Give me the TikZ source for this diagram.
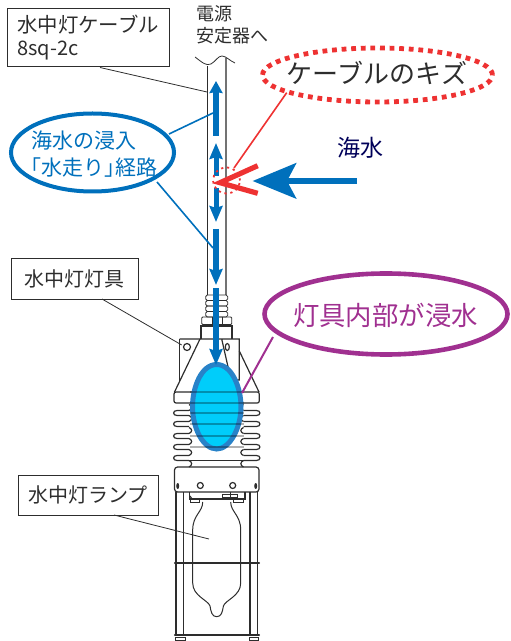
\documentclass[tikz,border=0pt]{standalone}
\usepackage{fontspec}
\setmainfont{Noto Sans CJK JP}
\newfontfamily\cjkprop[RawFeature=+palt]{Noto Sans CJK JP}
\usetikzlibrary{positioning,shapes.geometric,arrows.meta}
\definecolor{seablue}{RGB}{0,112,188}
\definecolor{cutred}{RGB}{238,50,50}
\definecolor{leakpurple}{RGB}{160,48,144}
\definecolor{waterfill}{RGB}{0,205,250}
\definecolor{wateredge}{RGB}{40,130,200}
\definecolor{inkgrey}{RGB}{45,45,45}
\begin{document}
\begin{tikzpicture}[
    x=0.5pt, y=-0.5pt,
    % Styles
    labelbox/.style={% For the white captions
        rectangle,
        draw=inkgrey,
        line width=.5pt,
        inner sep=0pt,
        text=inkgrey,
        },
    oval/.style={% For the big callouts
        ellipse,
        inner sep=0pt,
        },
    part/.style={% Lamp outline
        draw=inkgrey,
        line width=.6pt,
        },
    thinpart/.style={%
        draw=inkgrey,
        line width=.4pt,
        },
    leader/.style={% Thin line from a caption
        draw=inkgrey,
        line width=.4pt,
        },
    flowshort/.style={% Water path, short head
        seablue,
        line width=3pt,
        -{Stealth[length=6pt,width=6.5pt,inset=.5pt]},
        },
    flowlong/.style={% Water path, long head
        seablue,
        line width=#1,
        -{Stealth[length=8pt,width=6.5pt,inset=1pt]},
        },
    ]

    \useasboundingbox (0,0) rectangle (510,641);

    % Draw the cable
    \draw [thinpart] (207.3,66) -- (207.3,295);
    \draw [part, draw=gray!90!black] (226,58) -- (226,295);
    \draw [thinpart] (195,57) .. controls (203,63) and (206,66) .. (211,64)
        .. controls (216,61) and (218,56) .. (222,56)
        .. controls (226,56) and (230,61) .. (235,63);

    % Draw the fitting under the cable
    \foreach \y in {295,300.5,306,311.5}
        \draw [thinpart, rounded corners=.8pt] (205.7,\y) rectangle (227.7,\y+5.5);
    \draw [thinpart, rounded corners=.5pt] (201.7,317) rectangle (231.7,324.5);
    \draw [thinpart] (212,317) -- (212,324.5) (222,317) -- (222,324.5);
    \draw [part, line width=1pt] (200,325.5) -- (233,325.5);
    \draw [part] (201,326) -- (201,339) (232,326) -- (232,339);

    % Draw the flange
    \draw [part] (179.5,339) -- (239.3,339) -- (239.3,380) -- (231,380) -- (221.7,339);
    \draw [part] (179.5,339) -- (179.5,381);
    \draw [part] (200,339) -- (174.5,392);
    \draw [part] (239.3,351) -- (259,392);
    \node [circle, part, minimum size=3.5pt, inner sep=0pt] (holeL) at (187,347) {};
    \node [ellipse, part, minimum width=2pt, minimum height=3.5pt, inner sep=0pt] (holeR) at (227.3,347) {};

    % Draw the head and the fins
    \draw [part, rounded corners=1pt] (174,392) rectangle (259.3,403);
    \foreach \y in {413,424,436,447,458}{
        \draw [part] (189,\y-2.5) -- (177,\y-2.5)
            .. controls (172.5,\y-2.5) and (172.5,\y+2.5) .. (177,\y+2.5) -- (189,\y+2.5);
        \draw [part] (243.5,\y-2.5) -- (256.5,\y-2.5)
            .. controls (261,\y-2.5) and (261,\y+2.5) .. (256.5,\y+2.5) -- (243.5,\y+2.5);
        \draw [part] (189,\y-2.5) .. controls (192.5,\y-4) and (192.5,\y-7) .. (189,\y-8.5);
        \draw [part] (243.5,\y-2.5) .. controls (240,\y-4) and (240,\y-7) .. (243.5,\y-8.5);
    }
    \draw [thinpart] (189,460.5) -- (243.5,460.5);
    \draw [part] (189,460.5) .. controls (192.5,462) and (192.5,465.5) .. (189,467);
    \draw [part] (243.5,460.5) .. controls (240,462) and (240,465.5) .. (243.5,467);

    % Draw the lower housing
    \draw [part, rounded corners=1.5pt] (174.5,467) rectangle (259,492);
    \fill [inkgrey] (177.7,486) ellipse [x radius=1.5, y radius=3];
    \fill [inkgrey] (255.7,486) ellipse [x radius=1.5, y radius=3];
    \node [circle, part, minimum size=3pt, inner sep=0pt] (screwL) at (200.3,485.5) {};
    \node [circle, part, minimum size=3pt, inner sep=0pt] (screwR) at (232.7,485.5) {};
    \draw [part] (189.5,492) -- (189.5,499) -- (245,499) -- (245,492);
    \draw [thinpart] (222.7,494) rectangle (237.3,497);
    \draw [thinpart] (230,492) -- (230,499);
    \draw [part] (190,496) -- (192,499);
    \draw [thinpart] (190.5,499) rectangle (199.5,502.5);
    \draw [thinpart] (233.5,499) rectangle (243,502.5);

    % Draw the legs and straps
    \foreach \x in {176,183.3,250,257.7}
        \draw [part] (\x,492) -- (\x,636);
    \draw [part, line width=1.1pt, line cap=round] (175,562.7) -- (259,562.7);
    \draw [part, line width=1.1pt, line cap=round] (175,635) -- (259,635);
    \draw [thinpart] (175.5,637) rectangle (185,640.5) (249,637) rectangle (258.5,640.5);

    % Draw the bulb
    \draw [thinpart, line width=.5pt] (202.7,502)
        .. controls (202.7,512) and (192.7,515) .. (192.7,530) -- (192.7,583)
        .. controls (192.7,596) and (208,600) .. (210,606)
        .. controls (211,612) and (212,616.7) .. (216.7,616.7)
        .. controls (221.4,616.7) and (222.4,612) .. (223.4,606)
        .. controls (225.4,600) and (240.7,596) .. (240.7,583) -- (240.7,530)
        .. controls (240.7,515) and (230.7,512) .. (230.7,502);

    % Draw the flooded oval
    \path [fill=waterfill, draw=wateredge, line width=2.5pt]
        (216.7,364.5) .. controls (232,364.5) and (241,388) .. (241,406.5)
        .. controls (241,428) and (230,449) .. (216.7,449)
        .. controls (203,449) and (192.5,428) .. (192.5,406.5)
        .. controls (192.5,388) and (201,364.5) .. (216.7,364.5) -- cycle;
    \foreach \y in {392,403,413,424,436,447}
        \draw [draw=black, opacity=.3, line width=.6pt] (190,\y) -- (243.5,\y);

    % Draw the water path
    \coordinate (flowA1) at (216,136);
    \coordinate (flowA2) at (216,81);
    \coordinate (flowB1) at (216,176);
    \coordinate (flowB2) at (216,143);
    \coordinate (flowC1) at (216,188);
    \coordinate (flowC2) at (216,222);
    \coordinate (flowD1) at (216,229);
    \coordinate (flowD2) at (216,285);
    \coordinate (flowE1) at (216,288);
    \coordinate (flowE2) at (216,365);
    \draw [flowshort] (flowA1) -- (flowA2);
    \draw [flowlong=2.5pt] (flowB1) -- (flowB2);
    \draw [flowlong=2.5pt] (flowC1) -- (flowC2);
    \draw [flowlong=3pt] (flowD1) -- (flowD2);
    \draw [flowlong=3pt] (flowE1) -- (flowE2);

    % Draw the callouts
    \node [oval, line width=2pt, draw=seablue, minimum height=39pt, minimum width=81.5pt] (pathOval) at (92.5,152.5) {};
    \node [text=seablue, align=left, font=\fontsize{10.5pt}{13.5pt}\selectfont, inner sep=0pt] (pathText) at (94,154.5)
        {海水の浸入\\{\cjkprop 「}水走り{\cjkprop 」}経路};
    \node [oval, line width=2.4pt, dash pattern=on 2.4pt off 2.4pt, draw=cutred, minimum height=27pt, minimum width=115pt] (cutOval) at (377.5,75) {};
    \node [text=inkgrey, font=\fontsize{13pt}{15pt}\selectfont, inner sep=0pt] (cutText) at (377,73) {ケーブルのキズ};
    \node [oval, line width=2.3pt, draw=leakpurple, minimum height=40.5pt, minimum width=121.5pt] (leakOval) at (386,314) {};
    \node [text=leakpurple, font=\fontsize{13.2pt}{15pt}\selectfont, inner sep=0pt] (leakText) at (385.5,315) {灯具内部が浸水};

    % Draw the captions
    \node [labelbox, minimum width=81pt, minimum height=29pt, align=left, font=\fontsize{10.2pt}{13pt}\selectfont]
        (cableBox) at (88,38) {水中灯ケーブル\\[-1.5pt]{\fontsize{10pt}{11pt}\selectfont 8sq-2c}};
    \node [labelbox, minimum width=63.5pt, minimum height=20pt, font=\fontsize{10pt}{13pt}\selectfont]
        (fixtureBox) at (74.5,279) {水中灯灯具};
    \node [labelbox, minimum width=70pt, minimum height=20pt, font=\fontsize{10pt}{13pt}\selectfont]
        (lampBox) at (88,495) {水中灯ランプ};
    \node [text=inkgrey, align=left, font=\fontsize{9pt}{11pt}\selectfont, inner sep=0pt, anchor=north west]
        (powerText) at (196,5) {電源\\安定器へ};
    \node [text=blue!35!black, font=\fontsize{11.5pt}{14pt}\selectfont, inner sep=0pt] (seaText) at (360,148) {海水};

    % Draw the leaders
    \coordinate (cableOut) at (100,67.5);
    \coordinate (cableEnd) at (207,92);
    \coordinate (fixtureOut) at (102,299);
    \coordinate (fixtureEnd) at (181.7,345);
    \coordinate (lampOut) at (114,515);
    \coordinate (lampEnd) at (209,539);
    \draw [leader] (cableOut) -- (cableEnd);
    \draw [leader] (fixtureOut) -- (fixtureEnd);
    \draw [leader] (lampOut) -- (lampEnd);

    % Callout lines
    \coordinate (pathOutA) at (169,134);
    \coordinate (pathEndA) at (213,113);
    \coordinate (pathOutB) at (157,182);
    \coordinate (pathEndB) at (213,248);
    \draw [seablue, line width=.8pt] (pathOutA) -- (pathEndA);
    \draw [seablue, line width=.8pt] (pathOutB) -- (pathEndB);
    \coordinate (leakOut) at (273,337);
    \coordinate (leakEnd) at (242,393);
    \draw [leakpurple, line width=1pt] (leakOut) -- (leakEnd);

    % Draw the damage mark
    \node [ellipse, draw=cutred, dash pattern=on 1.1pt off 1.9pt, line width=.9pt, minimum width=13.5pt, minimum height=13pt, inner sep=0pt]
        (cutMark) at (226.5,180.5) {};
    \coordinate (cutOut) at (286.7,92.7);
    \coordinate (cutEnd) at (234,168);
    \draw [cutred, line width=.8pt] (cutOut) -- (cutEnd);
    \coordinate (cutTip) at (220,182.7);
    \coordinate (cutA) at (257.7,165.7);
    \coordinate (cutB) at (257.7,193.3);
    \draw [cutred, line width=2.6pt, line join=miter] (cutA) -- (cutTip) -- (cutB);

    % Draw the sea water arrow
    \coordinate (seaIn) at (357,181);
    \coordinate (seaTip) at (252.7,181);
    \draw [seablue, line width=3pt] (seaIn) -- (285,181);
    \fill [seablue] (seaTip) -- (296.7,162.7) -- (287,181) -- (296.7,199) -- cycle;

\end{tikzpicture}
\end{document}
